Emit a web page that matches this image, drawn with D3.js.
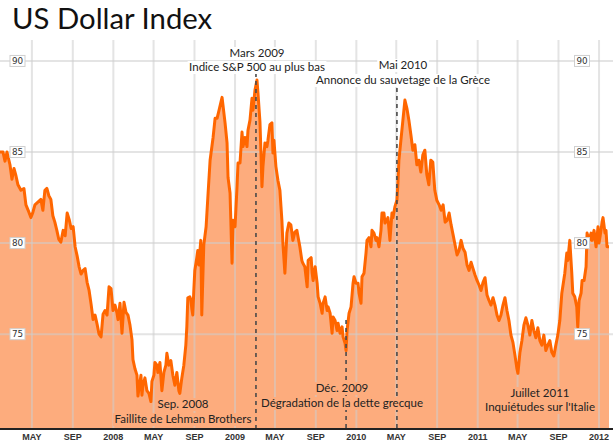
<!DOCTYPE html>
<html><head><meta charset="utf-8">
<script src="https://cdn.jsdelivr.net/npm/d3@7"></script>
<style>
body{margin:0;background:#fff;}
svg{display:block;}
</style></head><body>
<svg id="c" width="613" height="443"></svg>
<script>
const title = "US Dollar Index";
const s2007 = [["2007-01-25",85.0],["2007-02-03",85.0],["2007-02-09",84.5],["2007-02-15",85.0],["2007-02-24",84.3],["2007-03-02",83.5],["2007-03-08",84.1],["2007-03-14",83.7],["2007-03-20",83.2],["2007-03-29",82.9],["2007-04-07",83.0],["2007-04-13",82.1],["2007-04-22",81.7],["2007-04-28",81.4],["2007-05-04",81.7],["2007-05-10",82.1],["2007-05-19",82.25],["2007-05-28",82.4],["2007-06-03",81.8],["2007-06-09",82.9],["2007-06-15",83.0],["2007-06-21",82.6],["2007-06-27",82.4],["2007-07-03",81.5],["2007-07-09",81.15],["2007-07-15",80.7],["2007-07-21",80.2],["2007-07-27",80.05],["2007-08-03",80.7],["2007-08-09",80.4],["2007-08-15",81.65],["2007-08-21",81.3],["2007-08-27",80.8],["2007-09-02",80.9],["2007-09-08",79.8],["2007-09-14",79.3],["2007-09-20",78.7],["2007-09-26",78.3],["2007-10-02",78.5],["2007-10-08",78.6],["2007-10-14",77.85],["2007-10-20",77.4],["2007-10-26",76.65],["2007-11-01",75.8],["2007-11-07",76.05],["2007-11-13",75.55],["2007-11-19",75.0],["2007-11-25",74.85],["2007-12-01",76.1],["2007-12-07",76.3],["2007-12-13",76.05],["2007-12-19",77.6],["2007-12-25",77.5],["2007-12-31",76.3]];
const s2008 = [["2008-01-06",76.6],["2008-01-12",76.15],["2008-01-15",75.8],["2008-01-21",76.7],["2008-01-27",75.05],["2008-02-02",76.75],["2008-02-08",76.2],["2008-02-14",76.05],["2008-02-20",75.5],["2008-02-26",74.7],["2008-02-29",73.6],["2008-03-06",73.1],["2008-03-12",72.75],["2008-03-15",71.6],["2008-03-18",72.0],["2008-03-24",72.75],["2008-03-27",71.65],["2008-03-30",72.2],["2008-04-05",72.6],["2008-04-11",71.9],["2008-04-17",71.75],["2008-04-23",71.3],["2008-04-26",72.4],["2008-05-02",72.75],["2008-05-05",73.45],["2008-05-11",73.3],["2008-05-14",72.9],["2008-05-20",73.45],["2008-05-26",71.9],["2008-06-01",72.9],["2008-06-07",73.3],["2008-06-10",73.95],["2008-06-16",73.3],["2008-06-22",73.55],["2008-06-28",72.75],["2008-07-04",72.2],["2008-07-10",72.9],["2008-07-16",71.9],["2008-07-19",71.75],["2008-07-25",72.6],["2008-07-31",73.3],["2008-08-06",74.4],["2008-08-09",75.4],["2008-08-12",77.0],["2008-08-18",77.05],["2008-08-21",76.9],["2008-08-24",76.4],["2008-08-27",76.05],["2008-08-30",77.4],["2008-09-02",78.5],["2008-09-08",79.2],["2008-09-11",79.6],["2008-09-14",78.8],["2008-09-20",80.15],["2008-09-23",76.05],["2008-09-29",79.9],["2008-10-06",80.9],["2008-10-12",82.75],["2008-10-18",84.55],["2008-10-27",85.8],["2008-11-02",86.85],["2008-11-08",86.85],["2008-11-14",87.3],["2008-11-23",88.0],["2008-12-02",86.6],["2008-12-08",85.5],["2008-12-11",83.6],["2008-12-17",82.75],["2008-12-23",78.9],["2008-12-26",81.25]];
const s2009 = [["2009-01-01",80.9],["2009-01-07",83.1],["2009-01-10",84.4],["2009-01-16",84.4],["2009-01-22",86.1],["2009-01-25",85.3],["2009-01-31",85.8],["2009-02-06",85.3],["2009-02-09",86.2],["2009-02-15",86.75],["2009-02-21",87.95],["2009-02-24",87.3],["2009-03-02",88.4],["2009-03-08",88.95],["2009-03-11",88.25],["2009-03-17",86.65],["2009-03-20",84.95],["2009-03-23",83.1],["2009-03-26",84.2],["2009-04-01",85.5],["2009-04-07",85.3],["2009-04-10",85.65],["2009-04-16",86.5],["2009-04-22",86.6],["2009-04-25",84.95],["2009-04-28",85.65],["2009-05-04",84.2],["2009-05-10",83.45],["2009-05-16",82.9],["2009-05-22",81.25],["2009-05-25",80.0],["2009-05-31",78.35],["2009-06-06",80.55],["2009-06-12",81.1],["2009-06-18",81.0],["2009-06-24",80.15],["2009-06-30",80.6],["2009-07-06",80.7],["2009-07-15",79.8],["2009-07-21",79.05],["2009-07-24",78.9],["2009-07-30",78.7],["2009-08-06",77.6],["2009-08-09",79.05],["2009-08-18",79.2],["2009-08-21",78.35],["2009-08-24",77.95],["2009-08-30",78.7],["2009-09-05",77.8],["2009-09-08",77.05],["2009-09-14",76.7],["2009-09-20",76.15],["2009-09-23",76.7],["2009-09-29",77.05],["2009-10-05",76.3],["2009-10-08",76.5],["2009-10-14",76.15],["2009-10-20",75.05],["2009-10-23",75.95],["2009-10-29",75.75],["2009-11-04",75.2],["2009-11-07",75.6],["2009-11-13",75.05],["2009-11-19",75.4],["2009-11-22",74.85],["2009-11-28",74.5],["2009-12-01",74.1],["2009-12-04",75.2],["2009-12-10",76.15],["2009-12-16",76.5],["2009-12-22",77.8],["2009-12-25",78.15],["2009-12-31",77.8]];
const s2010 = [["2010-01-06",77.8],["2010-01-09",77.25],["2010-01-15",76.7],["2010-01-18",78.15],["2010-01-24",78.35],["2010-01-30",79.45],["2010-02-02",80.15],["2010-02-08",80.3],["2010-02-14",79.8],["2010-02-17",80.7],["2010-02-23",80.55],["2010-03-01",80.15],["2010-03-04",80.3],["2010-03-10",79.8],["2010-03-16",80.7],["2010-03-19",81.65],["2010-03-25",81.65],["2010-03-28",81.1],["2010-04-03",81.25],["2010-04-06",81.4],["2010-04-12",80.15],["2010-04-18",81.65],["2010-04-21",81.4],["2010-04-27",82.0],["2010-05-03",82.35],["2010-05-06",83.3],["2010-05-09",84.55],["2010-05-15",85.65],["2010-05-21",86.75],["2010-05-27",87.85],["2010-06-02",87.4],["2010-06-08",86.75],["2010-06-14",85.95],["2010-06-20",85.1],["2010-06-26",85.4],["2010-07-02",84.3],["2010-07-08",84.55],["2010-07-14",83.9],["2010-07-20",84.85],["2010-07-26",85.1],["2010-08-01",83.75],["2010-08-07",83.2],["2010-08-13",84.55],["2010-08-19",84.45],["2010-08-25",82.9],["2010-08-31",82.35],["2010-09-07",82.1],["2010-09-13",81.8],["2010-09-19",82.1],["2010-09-25",81.15],["2010-10-01",81.25],["2010-10-07",81.65],["2010-10-13",81.0],["2010-10-19",80.45],["2010-10-25",79.9],["2010-10-31",79.35],["2010-11-06",79.6],["2010-11-12",80.15],["2010-11-18",79.7],["2010-11-24",79.5],["2010-11-30",78.8],["2010-12-06",78.5],["2010-12-12",78.95],["2010-12-18",78.6],["2010-12-24",78.25],["2010-12-30",77.95]];
const s2011 = [["2011-01-05",77.7],["2011-01-11",77.4],["2011-01-17",77.85],["2011-01-23",78.1],["2011-01-29",77.15],["2011-02-04",76.85],["2011-02-10",76.6],["2011-02-16",77.0],["2011-02-22",76.6],["2011-02-28",76.05],["2011-03-06",75.75],["2011-03-12",76.05],["2011-03-18",76.6],["2011-03-24",77.0],["2011-03-30",76.3],["2011-04-05",75.75],["2011-04-11",74.95],["2011-04-17",74.55],["2011-04-23",73.85],["2011-04-29",73.1],["2011-05-02",72.85],["2011-05-08",74.0],["2011-05-14",74.65],["2011-05-20",75.5],["2011-05-26",75.9],["2011-06-01",75.5],["2011-06-07",74.95],["2011-06-13",75.75],["2011-06-19",75.2],["2011-06-25",74.8],["2011-07-01",75.35],["2011-07-07",74.65],["2011-07-13",74.4],["2011-07-19",74.95],["2011-07-25",74.1],["2011-07-31",74.4],["2011-08-06",74.65],["2011-08-12",74.0],["2011-08-18",73.8],["2011-08-24",74.4],["2011-08-30",74.95],["2011-09-05",75.75],["2011-09-11",77.25],["2011-09-20",78.35],["2011-09-26",79.45],["2011-09-29",79.05],["2011-10-05",80.15],["2011-10-11",78.35],["2011-10-14",77.25],["2011-10-20",77.05],["2011-10-26",76.5],["2011-10-29",75.4],["2011-11-02",76.85],["2011-11-08",77.25],["2011-11-11",77.95],["2011-11-17",77.95],["2011-11-23",78.7],["2011-11-26",80.55],["2011-12-02",80.15],["2011-12-08",80.55],["2011-12-11",80.15],["2011-12-17",80.7],["2011-12-23",79.8],["2011-12-29",80.9]];
const s2012 = [["2012-01-01",80.0],["2012-01-07",80.7],["2012-01-10",81.15],["2012-01-13",81.4],["2012-01-19",80.55],["2012-01-22",80.7],["2012-01-25",79.8],["2012-01-31",79.8]];

const yTicks = [75, 80, 85, 90];
const xTickDates = ["2007-05-01","2007-09-01","2008-01-01","2008-05-01","2008-09-01","2009-01-01","2009-05-01","2009-09-01","2010-01-01","2010-05-01","2010-09-01","2011-01-01","2011-05-01","2011-09-01","2012-01-01"];
const xTickLabels = ["MAY","SEP","2008","MAY","SEP","2009","MAY","SEP","2010","MAY","SEP","2011","MAY","SEP","2012"];
const annoDates = ["2008-09-15","2009-03-05","2009-12-01","2010-05-03","2011-07-01"];
const annoTitles = ["Sep. 2008","Mars 2009","Déc. 2009","Mai 2010","Juillet 2011"];
const annoTexts = ["Faillite de Lehman Brothers","Indice S&P 500 au plus bas","Dégradation de la dette grecque","Annonce du sauvetage de la Grèce","Inquiétudes sur l'Italie"];

const parse = d3.timeParse("%Y-%m-%d");
const data = [].concat(s2007, s2008, s2009, s2010, s2011, s2012).map(d => ({date: parse(d[0]), value: d[1]}));

const W = 613, plotTop = 40, plotBottom = 428;
const AREA = "#fdac7d", LINE = "#ff6600";
const svg = d3.select("#c");
const x = d3.scaleTime().domain([parse("2007-01-25"), parse("2012-02-12")]).range([0, W]);
const y = d3.scaleLinear().domain([69.85, 91.15]).range([plotBottom, plotTop]);

svg.append("defs").append("clipPath").attr("id","plot").append("rect")
  .attr("x",0).attr("y",plotTop).attr("width",W).attr("height",plotBottom-plotTop);

const g = svg.append("g").attr("clip-path","url(#plot)");

g.append("path").datum(data).attr("fill", AREA)
  .attr("d", d3.area().x(d=>x(d.date)).y0(plotBottom).y1(d=>y(d.value)));

const grid = g.append("g").attr("stroke","rgba(205,205,205,0.55)").attr("stroke-width",2);
grid.selectAll("line.v").data(xTickDates).join("line").attr("class","v")
  .attr("x1", d=>x(parse(d))).attr("x2", d=>x(parse(d))).attr("y1", plotTop).attr("y2", plotBottom);
grid.selectAll("line.h").data(yTicks).join("line").attr("class","h")
  .attr("x1", 0).attr("x2", W).attr("y1", d=>y(d)).attr("y2", d=>y(d));

g.append("path").datum(data).attr("fill","none").attr("stroke",LINE)
  .attr("stroke-width",3).attr("stroke-linejoin","round")
  .attr("d", d3.line().x(d=>x(d.date)).y(d=>y(d.value)));

const annoFont = "Lato, 'Open Sans', sans-serif";
const annoLayout = [
  {ty: 408, by: 423, bg: AREA, line: null},
  {ty: 57, by: 71, bg: "#fff", line: [73, plotBottom]},
  {ty: 392, by: 407, bg: AREA, line: [320, plotBottom]},
  {ty: 69, by: 84, bg: "#fff", line: [88, plotBottom]},
  {ty: 397, by: 411, bg: AREA, line: null}
];
const textX = [183, 257, 342, 403, 540];

const dashG = svg.append("g");
annoDates.forEach((d,i) => {
  const L = annoLayout[i];
  if (L.line) {
    dashG.append("line").attr("x1", x(parse(d))).attr("x2", x(parse(d)))
      .attr("y1", L.line[0]).attr("y2", L.line[1])
      .attr("stroke","#4a4a4a").attr("stroke-width",1.6).attr("stroke-dasharray","4,4");
  }
});

const bgG = svg.append("g"), txtG = svg.append("g");
annoTitles.forEach((t,i) => {
  const L = annoLayout[i];
  [[t, L.ty], [annoTexts[i], L.by]].forEach(([s, ty]) => {
    const tx = txtG.append("text").attr("x", textX[i]).attr("y", ty).attr("text-anchor","middle")
      .attr("font-family", annoFont).attr("font-size", 11.5).attr("fill","#222").text(s);
    const b = tx.node().getBBox();
    bgG.append("rect").attr("fill", L.bg).attr("x", b.x-1.5).attr("y", b.y+1)
      .attr("width", b.width+3).attr("height", b.height);
  });
});

[17.5, 582].forEach(cx => {
  const yg = svg.append("g");
  yTicks.forEach(v => {
    yg.append("rect").attr("x", cx-7.5).attr("y", y(v)-5.5).attr("width",15).attr("height",11)
      .attr("fill","#fff").attr("stroke","#cfcfcf").attr("stroke-width",1);
    yg.append("text").attr("x", cx).attr("y", y(v)+3.3).attr("text-anchor","middle")
      .attr("font-family","'DejaVu Sans', Verdana, sans-serif").attr("font-size",8.8)
      .attr("fill","#333").text(v);
  });
});

svg.append("line").attr("x1",0).attr("x2",W).attr("y1",plotBottom+1).attr("y2",plotBottom+1)
  .attr("stroke","#222").attr("stroke-width",2);
svg.append("g").selectAll("text").data(xTickDates).join("text")
  .attr("x", d=>x(parse(d))).attr("y", 440).attr("text-anchor","middle")
  .attr("font-family","'Liberation Sans', Arial, sans-serif").attr("font-weight","bold")
  .attr("font-size",9).attr("fill","#333").text((d,i)=>xTickLabels[i]);

svg.append("text").attr("x",12).attr("y",28.5).attr("font-family","Lato, 'Open Sans', sans-serif")
  .attr("font-size",29.3).attr("fill","#111").text(title);
</script>
</body></html>
